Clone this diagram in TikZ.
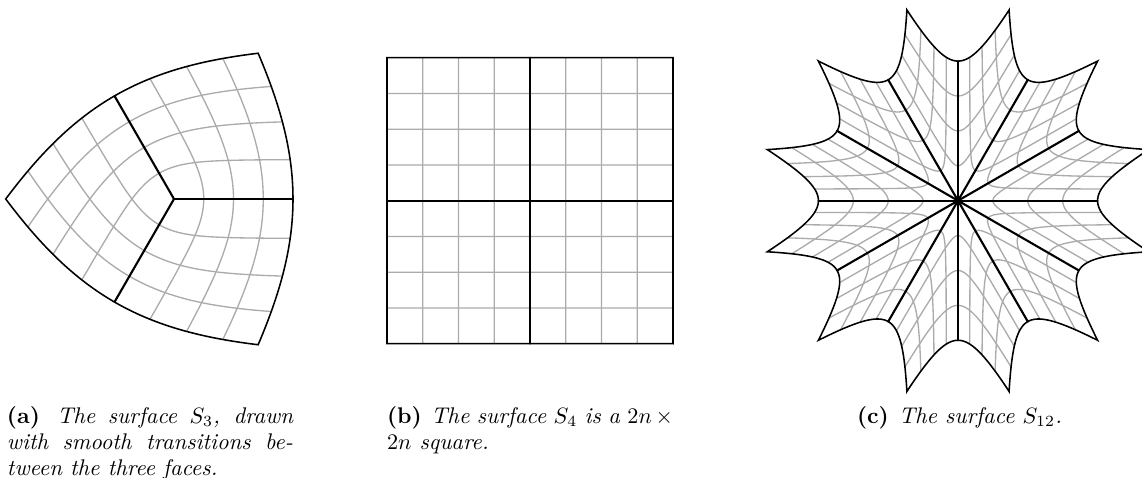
\documentclass[tikz,border=0pt]{standalone}
\tikzset{
  greyline/.style={draw=black!33,line width=0.6pt,line join=round},
  spokeline/.style={draw=black,line width=0.95pt,line cap=round},
  edgeline/.style={draw=black,line width=0.7pt,line join=miter},
  caplabel/.style={inner sep=0pt,outer sep=0pt,anchor=north west,align=justify,font=\fontsize{10.2}{11.7}\selectfont\itshape}
}
\newcommand{\capgap}{\hspace{4.5pt plus 3pt minus 1pt}}
% \surfacedraw{cx}{cy}{R}{N}: N faces, each the image of a 2n-grid quarter square with radius kept and angle scaled by 4/N
\newcommand{\surfacedraw}[4]{%
  \pgfmathsetmacro{\kk}{4/#4}%
  \pgfmathsetmacro{\stepang}{360/#4}%
  \pgfmathtruncatemacro{\lastface}{#4-1}%
  \foreach \i in {0,...,\lastface}{%
    \begin{scope}[shift={(#1,#2)},rotate=\i*\stepang]
      \foreach \a in {0.25,0.5,0.75}{%
        \draw[greyline] plot[variable=\t,domain=0:1,samples=36,smooth] ({atan2(\t,\a)*\kk}:{#3*veclen(\t,\a)});
        \draw[greyline] plot[variable=\t,domain=0:1,samples=36,smooth] ({atan2(\a,\t)*\kk}:{#3*veclen(\t,\a)});
      }
    \end{scope}
  }%
  \foreach \i in {0,...,\lastface}{%
    \begin{scope}[shift={(#1,#2)},rotate=\i*\stepang]
      \draw[edgeline] plot[variable=\t,domain=0:1,samples=40] ({atan2(\t,1)*\kk}:{#3*veclen(\t,1)})
        -- plot[variable=\t,domain=1:0,samples=40] ({atan2(1,\t)*\kk}:{#3*veclen(\t,1)});
      \coordinate (hub) at (0,0);
      \coordinate (rim) at (#3,0);
      \draw[spokeline] (hub) -- (rim);
    \end{scope}
  }%
}
\begin{document}
\begin{tikzpicture}[x=0.45pt,y=0.45pt]
  \useasboundingbox (0,0) rectangle (1142,-478);
  \surfacedraw{174}{-199}{119}{3}
  \surfacedraw{530}{-200.7}{143}{4}
  \surfacedraw{958}{-200.7}{139.6}{12}
  \node[caplabel,text width=286*0.45pt] (capa) at (7,-406.5) {\textup{\textbf{(a)}}\capgap The surface $S_3$, drawn with smooth transitions between the three faces.};
  \node[caplabel,text width=286*0.45pt] (capb) at (387,-406.5) {\textup{\textbf{(b)}}\capgap The surface $S_4$ is a $2n\times 2n$ square.};
  \node[caplabel,anchor=north,align=center] (capc) at (959.5,-406.5) {\textup{\textbf{(c)}}\capgap The surface $S_{12}$.};
\end{tikzpicture}
\end{document}
